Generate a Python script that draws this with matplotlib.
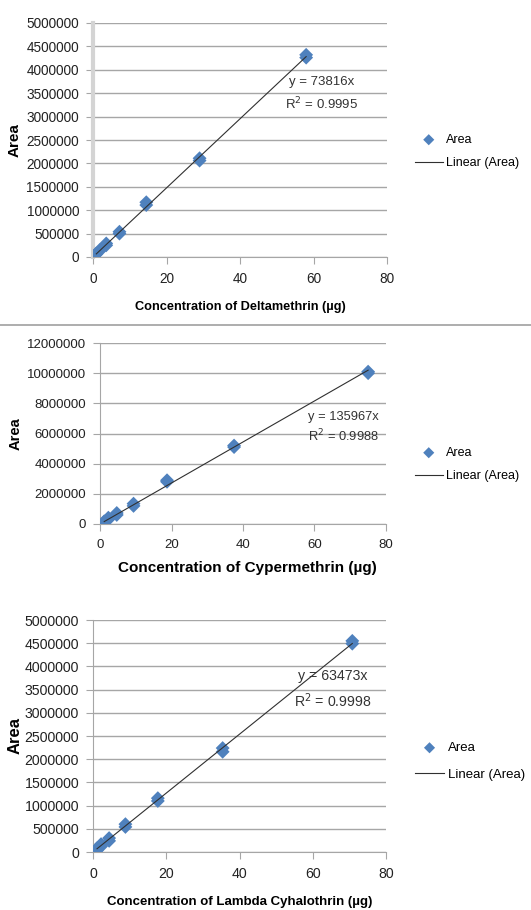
import matplotlib
matplotlib.use('Agg')
import matplotlib.pyplot as plt
from matplotlib.lines import Line2D

plt.rcParams['font.family'] = ['Liberation Sans', 'DejaVu Sans']

# data (two replicates per level)
conc_delta = [0.9, 0.9, 1.8, 1.8, 3.6, 3.6, 7.2, 7.2, 14.5, 14.5, 29, 29, 58, 58]
area_delta = [60000, 75000, 130000, 150000, 250000, 290000, 500000, 540000,
              1110000, 1170000, 2060000, 2110000, 4260000, 4320000]

conc_cyper = [1.17, 1.17, 2.34, 2.34, 4.69, 4.69, 9.38, 9.38, 18.75, 18.75, 37.5, 37.5, 75, 75]
area_cyper = [100000, 180000, 300000, 420000, 600000, 730000, 1200000, 1350000,
              2800000, 2900000, 5100000, 5200000, 10000000, 10100000]

conc_lambda = [1.1, 1.1, 2.2, 2.2, 4.4, 4.4, 8.85, 8.85, 17.7, 17.7, 35.4, 35.4, 70.8, 70.8]
area_lambda = [40000, 80000, 120000, 170000, 240000, 300000, 540000, 600000,
               1100000, 1160000, 2160000, 2240000, 4490000, 4550000]

slopes = [73816, 135967, 63473]
r2_values = ['0.9995', '0.9988', '0.9998']
x_labels = ['Concentration of Deltamethrin (\u00b5g)',
            'Concentration of Cypermethrin (\u00b5g)',
            'Concentration of Lambda Cyhalothrin (\u00b5g)']
y_tops = [5000000, 12000000, 5000000]
y_steps = [500000, 2000000, 500000]

BLUE = '#4f81bd'
GRID = '#a6a6a6'
W, H = 531.0, 910.0

# axes boxes in pixels: left, top, right, bottom
boxes = [(93, 23, 387, 257), (100, 343, 386, 524), (93, 620, 386, 852)]
# equation centre in axes fraction
eq_pos = [(0.779, 0.696), (0.85, 0.532), (0.819, 0.7)]
eq_fs = [9.5, 9.3, 10.2]
eq_ls = [1.6, 1.3, 1.5]
# legend upper-left corner in pixels
leg_pos = [(415, 134), (415, 447), (415, 742)]
leg_fs = [9, 9, 9.5]
leg_space = [0.9, 0.9, 1.1]
# x label: x, y in axes fraction, font size
xlab = [(0.5, -0.214, 9.2), (0.517, -0.243, 11), (0.5, -0.216, 9.5)]
ylab_x = [-0.265, -0.294, -0.266]
ylab_fs = [11, 10.5, 12]
tick_fs = [9.8, 9.5, 10.2]

fig = plt.figure(figsize=(W / 100, H / 100), dpi=100)

data = [(conc_delta, area_delta), (conc_cyper, area_cyper), (conc_lambda, area_lambda)]

for i, (xs, ys) in enumerate(data):
    l, t, r, b = boxes[i]
    ax = fig.add_axes([l / W, 1 - b / H, (r - l) / W, (b - t) / H])

    ax.scatter(xs, ys, marker='D', s=50, color=BLUE, edgecolors='none', zorder=3, label='Area')
    x0, x1 = min(xs), max(xs)
    ax.plot([x0, x1], [slopes[i] * x0, slopes[i] * x1], color='#303030', lw=0.8,
            zorder=4, label='Linear (Area)')

    ax.set_xlim(0, 80)
    ax.set_ylim(0, y_tops[i])
    ax.set_xticks(range(0, 81, 20))
    ax.set_yticks(range(0, y_tops[i] + 1, y_steps[i]))
    ax.set_yticklabels([str(v) for v in range(0, y_tops[i] + 1, y_steps[i])])
    ax.grid(axis='y', color=GRID, lw=1)
    ax.set_axisbelow(True)
    for s in ['top', 'right']:
        ax.spines[s].set_visible(False)
    ax.spines['bottom'].set_color(GRID)
    if i == 0:
        ax.spines['left'].set_color('#d4d4d4')
        ax.spines['left'].set_linewidth(3)
    else:
        ax.spines['left'].set_color(GRID)
    ax.tick_params(axis='x', colors=GRID, labelcolor='#222222', length=5,
                   labelsize=tick_fs[i], pad=6)
    ax.tick_params(axis='y', colors=GRID, labelcolor='#222222', length=5,
                   labelsize=tick_fs[i], pad=5)

    ax.set_xlabel(x_labels[i], fontweight='bold', fontsize=xlab[i][2], va='center')
    ax.xaxis.set_label_coords(xlab[i][0], xlab[i][1])
    ax.set_ylabel('Area', fontweight='bold', fontsize=ylab_fs[i], va='center')
    ax.yaxis.set_label_coords(ylab_x[i], 0.5)

    ax.text(eq_pos[i][0], eq_pos[i][1],
            'y = %dx\nR$^2$ = %s' % (slopes[i], r2_values[i]),
            transform=ax.transAxes, ha='center', va='center',
            fontsize=eq_fs[i], color='#333333', linespacing=eq_ls[i], zorder=5)

    lx, ly = leg_pos[i]
    ax.legend(loc='upper left', bbox_to_anchor=(lx / W, 1 - ly / H),
              bbox_transform=fig.transFigure, frameon=False, fontsize=leg_fs[i],
              handlelength=2.2, handletextpad=0.3, labelspacing=leg_space[i],
              borderpad=0, borderaxespad=0, markerscale=0.8)

# separator between first and second panel
fig.add_artist(Line2D([0, 1], [1 - 325 / H, 1 - 325 / H], color='#a0a0a0', lw=1.2))

fig.savefig('out.png', dpi=100)
